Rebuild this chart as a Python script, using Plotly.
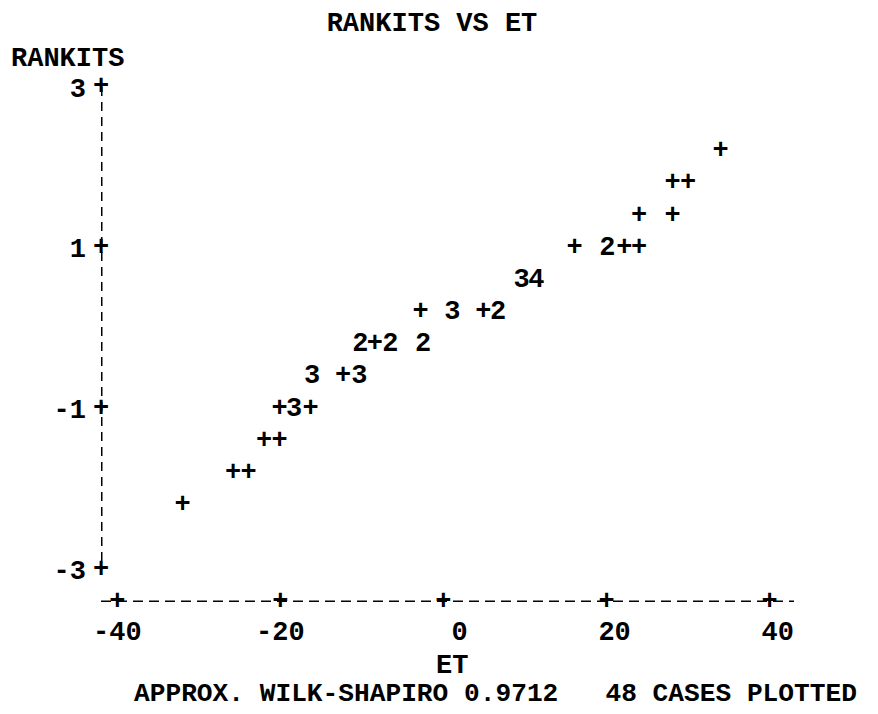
import plotly.graph_objects as go

# ---- data ----
ET = [34.0, 28.1, 30.0, 24.0, 28.1, 16.1, 20.1, 22.2, 24.0, 9.6, 11.4,
      -2.8, 1.1, 4.9, 6.7, -10.2, -8.4, -6.5, -2.5, -16.1, -12.3, -10.3,
      -20.1, -18.3, -16.3, -22.0, -20.1, -25.8, -23.9, -32.0]
RANKITS = [2.2, 1.8, 1.8, 1.4, 1.4, 1.0, 1.0, 1.0, 1.0, 0.6, 0.6,
           0.2, 0.2, 0.2, 0.2, -0.2, -0.2, -0.2, -0.2, -0.6, -0.6, -0.6,
           -1.0, -1.0, -1.0, -1.4, -1.4, -1.8, -1.8, -2.2]
COUNTS = [1, 1, 1, 1, 1, 1, 2, 1, 1, 3, 4,
          1, 3, 1, 2, 2, 1, 2, 2, 3, 1, 3,
          1, 3, 1, 1, 1, 1, 1, 1]

X_TICKS = [-40, -20, 0, 20, 40]
X_TICK_LABELS = ["-40", "-20", "0", "20", "40"]
Y_TICKS = [3, 1, -1, -3]
Y_TICK_LABELS = ["3", "1", "-1", "-3"]

TITLE = "RANKITS VS ET"
Y_TITLE = "RANKITS"
X_TITLE = "ET"
FOOTER = "APPROX. WILK-SHAPIRO 0.9712   48 CASES PLOTTED"

# ---- styling ----
FONT = "Liberation Mono, Courier New, monospace"
FS = 27
INK = "black"
TF = dict(family=FONT, size=FS, color=INK, weight="bold")
TF_FOOT = dict(family=FONT, size=26.2, color=INK, weight="bold")

X_RANGE = [-42, 43]
Y_RANGE = [-3.4, 3.2]
Y_AXIS_X = X_RANGE[0]
X_AXIS_Y = Y_RANGE[0]

symbols = ["+" if c == 1 else str(c) for c in COUNTS]

fig = go.Figure()

# plotted characters
fig.add_trace(go.Scatter(
    x=ET, y=RANKITS, mode="text", text=symbols,
    textposition="middle center", textfont=TF,
    cliponaxis=False, hoverinfo="skip", showlegend=False))

# "+" tick marks on the character axes
fig.add_trace(go.Scatter(
    x=[Y_AXIS_X] * len(Y_TICKS), y=Y_TICKS, mode="text",
    text=["+"] * len(Y_TICKS), textposition="middle center", textfont=TF,
    cliponaxis=False, hoverinfo="skip", showlegend=False))
fig.add_trace(go.Scatter(
    x=X_TICKS, y=[X_AXIS_Y] * len(X_TICKS), mode="text",
    text=["+"] * len(X_TICKS), textposition="middle center", textfont=TF,
    cliponaxis=False, hoverinfo="skip", showlegend=False))

# dashed axis lines
fig.add_shape(type="line", xref="x", yref="y",
              x0=Y_AXIS_X, x1=Y_AXIS_X, y0=Y_TICKS[0], y1=Y_TICKS[-1],
              line=dict(color=INK, width=3, dash="9px,6px"))
fig.add_shape(type="line", xref="x", yref="y",
              x0=X_RANGE[0], x1=X_RANGE[1], y0=X_AXIS_Y, y1=X_AXIS_Y,
              line=dict(color=INK, width=3, dash="10px,6px"))

nb = "\u00a0"
x_ticktext = [(nb * (3 - len(t))) + t for t in X_TICK_LABELS]

fig.update_xaxes(range=X_RANGE, showgrid=False, zeroline=False, showline=False,
                 ticks="", tickvals=X_TICKS, ticktext=x_ticktext,
                 ticklabelstandoff=10, tickfont=TF)
fig.update_yaxes(range=Y_RANGE, showgrid=False, zeroline=False, showline=False,
                 ticks="", tickvals=Y_TICKS, ticktext=Y_TICK_LABELS,
                 ticklabelstandoff=14, tickfont=TF)

L, R, T, B = 93, 92, 63, 120
PW, PH = 878 - L - R, 714 - T - B

def px_x(px):
    return (px - L) / PW

def px_y(py):
    return (714 - B - py) / PH

fig.add_annotation(text=Y_TITLE, xref="paper", yref="paper",
                   x=px_x(1), y=px_y(51), xanchor="left", yanchor="middle",
                   showarrow=False, font=TF)
fig.add_annotation(text=X_TITLE, xref="paper", yref="paper",
                   x=px_x(444), y=px_y(658), xanchor="center", yanchor="middle",
                   showarrow=False, font=TF)
fig.add_annotation(text=FOOTER.replace(" ", nb), xref="paper", yref="paper",
                   x=px_x(124), y=px_y(686), xanchor="left", yanchor="middle",
                   showarrow=False, font=TF_FOOT)

fig.update_layout(
    width=878, height=714,
    margin=dict(l=L, r=R, t=T, b=B),
    paper_bgcolor="white", plot_bgcolor="white",
    title=dict(text=TITLE, x=424 / 878, y=1 - 14 / 714,
               xanchor="center", yanchor="middle", font=TF),
    showlegend=False,
)

fig.write_html("out.html")
